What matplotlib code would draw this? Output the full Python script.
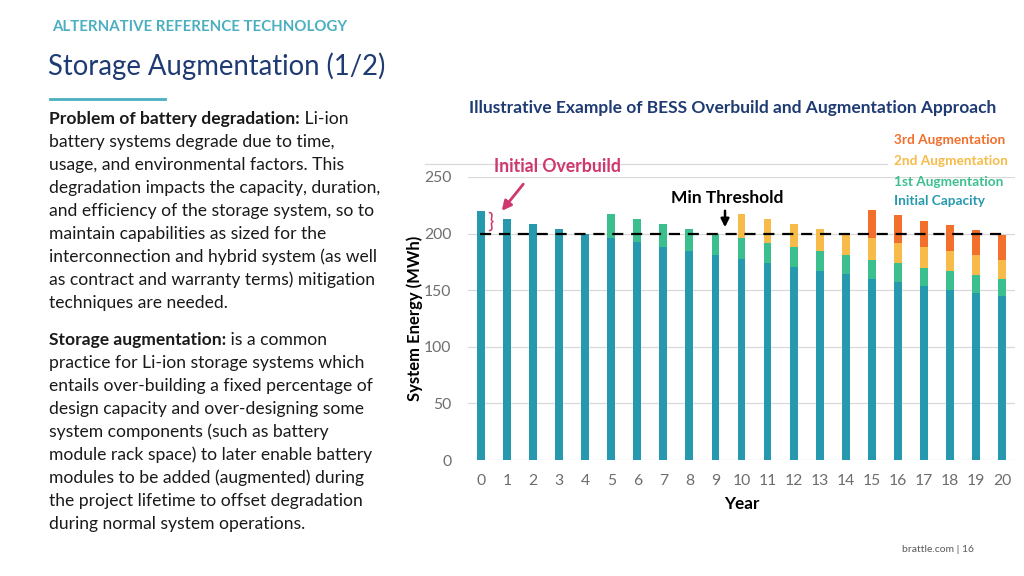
import matplotlib
matplotlib.use("Agg")
import matplotlib.pyplot as plt
import numpy as np

plt.rcParams["font.family"] = ["Lato", "DejaVu Sans"]

years = list(range(21))
initial_capacity = [220, 213, 208.5, 204, 200, 196, 192.5, 188.5, 184.5, 181, 177.5,
                    174, 170.5, 167, 164, 160, 157, 154, 150.5, 147.5, 145]
aug_1st = [0, 0, 0, 0, 0, 21, 20.5, 20, 20, 19, 19, 18, 18, 18, 17, 17, 17, 16, 16.5, 16, 15]
aug_2nd = [0, 0, 0, 0, 0, 0, 0, 0, 0, 0, 20.5, 20.5, 20, 19, 19, 19, 18, 18, 18, 17.5, 17]
aug_3rd = [0, 0, 0, 0, 0, 0, 0, 0, 0, 0, 0, 0, 0, 0, 0, 24.5, 24, 23.5, 23, 22, 22]
min_threshold = 200
y_ticks = [0, 50, 100, 150, 200, 250]

c_init = "#2699AE"
c_1st = "#3CBF8E"
c_2nd = "#F6BB49"
c_3rd = "#F26F2C"
teal = "#4BAFC0"
navy = "#1F3B73"
pink = "#D0376E"
body = "#1A1A1A"

W, H = 1024, 576
fig = plt.figure(figsize=(10.24, 5.76), dpi=100)


def fx(px):
    return px / W


def fy(py):
    return 1 - py / H


# header
fig.text(fx(52), fy(27), "ALTERNATIVE REFERENCE TECHNOLOGY", color=teal, fontsize=10.8,
         fontweight="bold", va="center", ha="left")
fig.text(fx(48), fy(66), "Storage Augmentation (1/2)", color=navy, fontsize=19.8,
         va="center", ha="left")
fig.add_artist(plt.Line2D([fx(50), fx(165)], [fy(99), fy(99)], color=teal, lw=2))

# body text
renderer = fig.canvas.get_renderer()


def para(y0, bold_part, first_rest, lines, size=12.6, step=23):
    t = fig.text(fx(49), fy(y0), bold_part, fontsize=size, fontweight="bold",
                 color=body, va="center", ha="left")
    bb = t.get_window_extent(renderer)
    fig.text(bb.x1 / W, fy(y0), " " + first_rest, fontsize=size, color=body,
             va="center", ha="left")
    for i, line in enumerate(lines):
        fig.text(fx(49), fy(y0 + step * (i + 1)), line, fontsize=size, color=body,
                 va="center", ha="left")


para(119, "Problem of battery degradation:", "Li-ion", [
    "battery systems degrade due to time,",
    "usage, and environmental factors. This",
    "degradation impacts the capacity, duration,",
    "and efficiency of the storage system, so to",
    "maintain capabilities as sized for the",
    "interconnection and hybrid system (as well",
    "as contract and warranty terms) mitigation",
    "techniques are needed.",
])
para(340, "Storage augmentation:", "is a common", [
    "practice for Li-ion storage systems which",
    "entails over-building a fixed percentage of",
    "design capacity and over-designing some",
    "system components (such as battery",
    "module rack space) to later enable battery",
    "modules to be added (augmented) during",
    "the project lifetime to offset degradation",
    "during normal system operations.",
])

fig.text(fx(902), fy(549), "brattle.com | 16", fontsize=7.5, color="#595959",
         va="center", ha="left")

# chart
ax = fig.add_axes([fx(468), fy(460), fx(1015) - fx(468), fy(177) - fy(460)])
x = np.array(years)
w = 0.3
b1 = np.array(initial_capacity)
b2 = b1 + np.array(aug_1st)
b3 = b2 + np.array(aug_2nd)
ax.bar(x, initial_capacity, w, color=c_init, zorder=3)
ax.bar(x, aug_1st, w, bottom=b1, color=c_1st, zorder=3)
ax.bar(x, aug_2nd, w, bottom=b2, color=c_2nd, zorder=3)
ax.bar(x, aug_3rd, w, bottom=b3, color=c_3rd, zorder=3)
ax.plot([-0.05, 20.2], [min_threshold, min_threshold], color="black", lw=1.6,
        dashes=(5, 3.5), zorder=4)

ax.set_xlim(-0.5, 20.5)
ax.set_ylim(0, 250)
ax.set_yticks(y_ticks)
ax.set_xticks(years)
ax.grid(axis="y", color="#D9D9D9", lw=0.9, zorder=0)
for s in ax.spines.values():
    s.set_visible(False)
ax.tick_params(length=0, colors="#6E6E6E", labelsize=11.3)
ax.tick_params(axis="y", pad=12)
ax.tick_params(axis="x", pad=10)
ax.set_xlabel("Year", fontsize=12.3, fontweight="bold", labelpad=6)
ax.set_ylabel("System Energy (MWh)", fontsize=12, fontweight="bold")
ax.yaxis.set_label_coords((423 - 468) / 547, 0.5)

fig.text(fx(733), fy(108), "Illustrative Example of BESS Overbuild and Augmentation Approach",
         color=navy, fontsize=12.5, fontweight="bold", ha="center", va="center")
fig.add_artist(plt.Line2D([fx(425), fx(887)], [fy(164), fy(164)], color="#D9D9D9", lw=0.9))

leg = [("3rd Augmentation", c_3rd, 140), ("2nd Augmentation", c_2nd, 161),
       ("1st Augmentation", c_1st, 182), ("Initial Capacity", c_init, 201)]
for label, col, py in leg:
    fig.text(fx(894), fy(py), label, color=col, fontsize=9.8, fontweight="bold",
             ha="left", va="center")

# annotations
fig.text(fx(558), fy(166), "Initial Overbuild", color=pink, fontsize=12.7, fontweight="bold",
         ha="center", va="center")
ax.annotate("", xy=(fx(500), fy(213)), xytext=(fx(525), fy(182)), xycoords="figure fraction",
            arrowprops=dict(arrowstyle="-|>", color=pink, lw=2, mutation_scale=14))
fig.text(fx(490), fy(222), "}", color=pink, fontsize=15, ha="center", va="center")

fig.text(fx(727), fy(198), "Min Threshold", color="black", fontsize=12.5, fontweight="bold",
         ha="center", va="center")
ax.annotate("", xy=(fx(725), fy(230)), xytext=(fx(725), fy(208)), xycoords="figure fraction",
            arrowprops=dict(arrowstyle="-|>", color="black", lw=1.8, mutation_scale=12))

fig.savefig("out.png", dpi=100)
